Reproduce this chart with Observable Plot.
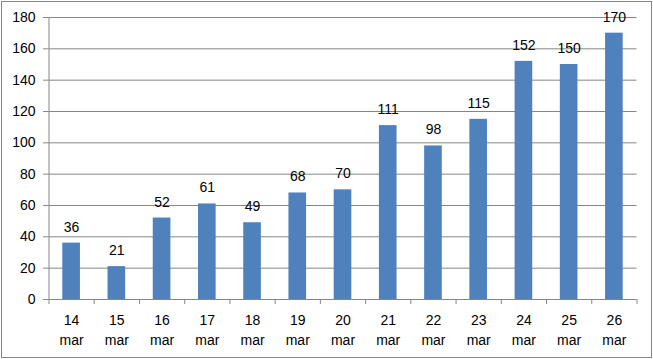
<!DOCTYPE html>
<html>
<head>
<meta charset="utf-8">
<script src="https://cdn.jsdelivr.net/npm/d3@7"></script>
<script src="https://cdn.jsdelivr.net/npm/@observablehq/plot@0.6"></script>
<style>
  body { margin: 0; background: #fff; }
  #chart svg { display: block; outline: 1px solid #868686; outline-offset: -2px; }
</style>
</head>
<body>
<div id="chart"></div>
<script>
const days = ["14", "15", "16", "17", "18", "19", "20", "21", "22", "23", "24", "25", "26"];
const month = "mar";
const values = [36, 21, 52, 61, 49, 68, 70, 111, 98, 115, 152, 150, 170];
const yTicks = [0, 20, 40, 60, 80, 100, 120, 140, 160, 180];

const data = days.map((d, i) => ({day: d, month, value: values[i], i}));
const n = days.length;
const half = 0.195;

const chart = Plot.plot({
  width: 653,
  height: 359,
  marginLeft: 48.5,
  marginRight: 16.5,
  marginTop: 17,
  marginBottom: 60,
  style: {fontFamily: "'Liberation Sans', Arial, sans-serif", fontSize: "14px", color: "#000", background: "#fff"},
  x: {type: "linear", domain: [0, n], axis: null},
  y: {domain: [0, 180], axis: null},
  marks: [
    Plot.ruleY(yTicks, {x1: 0, x2: n, stroke: "#868686", strokeWidth: 1}),
    Plot.axisY({ticks: yTicks, tickSize: 5.5, tickPadding: 8, stroke: "#868686", tickFormat: d => d, fill: "#000", fontSize: 14, label: null}),
    Plot.axisX({ticks: d3.range(n + 1), tickSize: 5, tickFormat: () => "", stroke: "#868686", label: null}),
    Plot.ruleX([0], {y1: 0, y2: 180, stroke: "#868686"}),
    Plot.rectY(data, {x1: d => d.i + 0.5 - half, x2: d => d.i + 0.5 + half, y1: 0, y2: "value", fill: "#4F81BD"}),
    Plot.text(data, {x: d => d.i + 0.5, y: "value", text: d => String(d.value), dy: -16, fill: "#000", fontSize: 14}),
    Plot.text(data, {x: d => d.i + 0.5, y: () => 0, text: "day", dy: 21, fill: "#000", fontSize: 14}),
    Plot.text(data, {x: d => d.i + 0.5, y: () => 0, text: "month", dy: 41, fill: "#000", fontSize: 14})
  ]
});
document.getElementById("chart").append(chart);
</script>
</body>
</html>
